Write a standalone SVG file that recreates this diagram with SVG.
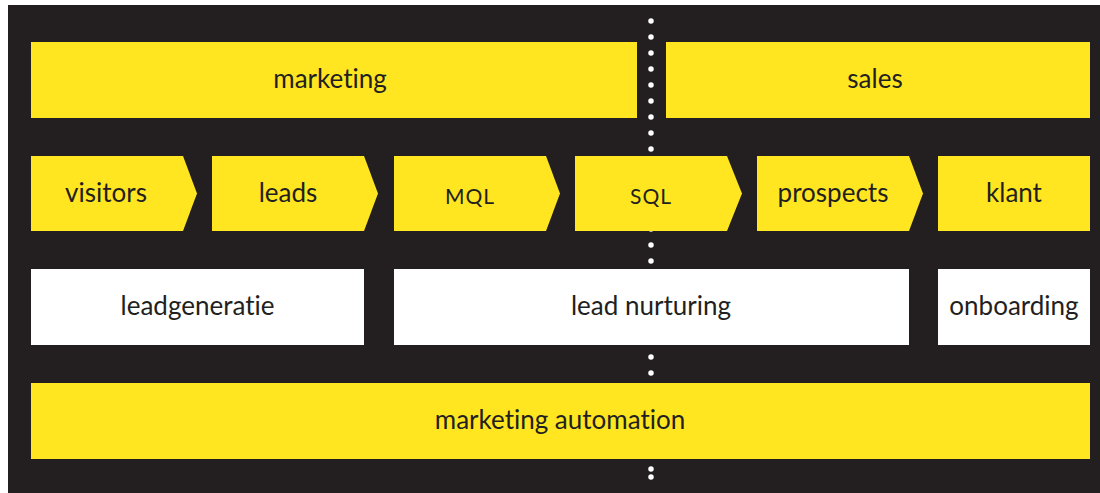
<svg xmlns="http://www.w3.org/2000/svg" width="1100" height="493" viewBox="0 0 1100 493">
  <defs>
    <style>
      .bg { fill: #231f20; }
      .yellow { fill: #ffe620; }
      .white { fill: #ffffff; }
      .label { font-family: Lato, "Open Sans", sans-serif; font-size: 26px; fill: #231f20; text-anchor: middle; font-variant-ligatures: none; font-feature-settings: "liga" 0, "clig" 0; }
      .caps { font-size: 21px; letter-spacing: 1px; }
      .dots { stroke: #ffffff; stroke-width: 5.5; stroke-linecap: round; stroke-dasharray: 0 16; fill: none; }
    </style>
  </defs>

  <rect class="bg" x="8" y="5" width="1092" height="488"/>

  <!-- dotted divider between marketing and sales -->
  <g id="connectors">
    <line class="dots" x1="651" y1="21" x2="651" y2="471"/>
    <circle cx="651" cy="477" r="2.75" fill="#ffffff"/>
  </g>

  <!-- department headers -->
  <g id="marketing">
    <rect class="yellow" x="31" y="42" width="606" height="76"/>
    <text class="label" x="330" y="88">marketing</text>
  </g>
  <g id="sales">
    <rect class="yellow" x="666" y="42" width="424" height="76"/>
    <text class="label" x="875" y="88">sales</text>
  </g>

  <!-- funnel stages -->
  <g id="visitors">
    <polygon class="yellow" points="31,156 183,156 197,193.5 183,231 31,231"/>
    <text class="label" x="106" y="201.5">visitors</text>
  </g>
  <g id="leads">
    <polygon class="yellow" points="212,156 364,156 378,193.5 364,231 212,231"/>
    <text class="label" x="288" y="201.5">leads</text>
  </g>
  <g id="mql">
    <polygon class="yellow" points="394,156 546,156 560,193.5 546,231 394,231"/>
    <text class="label caps" x="470" y="203.5">MQL</text>
  </g>
  <g id="sql">
    <polygon class="yellow" points="575,156 727,156 742,193.5 727,231 575,231"/>
    <text class="label caps" x="651" y="203.5">SQL</text>
  </g>
  <g id="prospects">
    <polygon class="yellow" points="757,156 909,156 923,193.5 909,231 757,231"/>
    <text class="label" x="833" y="201.5">prospects</text>
  </g>
  <g id="klant">
    <rect class="yellow" x="938" y="156" width="152" height="75"/>
    <text class="label" x="1014" y="201.5">klant</text>
  </g>

  <!-- activities -->
  <g id="leadgeneratie">
    <rect class="white" x="31" y="269" width="333" height="76"/>
    <text class="label" x="197.5" y="314.5">leadgeneratie</text>
  </g>
  <g id="lead-nurturing">
    <rect class="white" x="394" y="269" width="515" height="76"/>
    <text class="label" x="651" y="314.5">lead nurturing</text>
  </g>
  <g id="onboarding">
    <rect class="white" x="938" y="269" width="152" height="76"/>
    <text class="label" x="1014" y="314.5">onboarding</text>
  </g>

  <!-- tooling -->
  <g id="marketing-automation">
    <rect class="yellow" x="31" y="383" width="1059" height="76"/>
    <text class="label" x="560" y="428.5">marketing automation</text>
  </g>
</svg>
